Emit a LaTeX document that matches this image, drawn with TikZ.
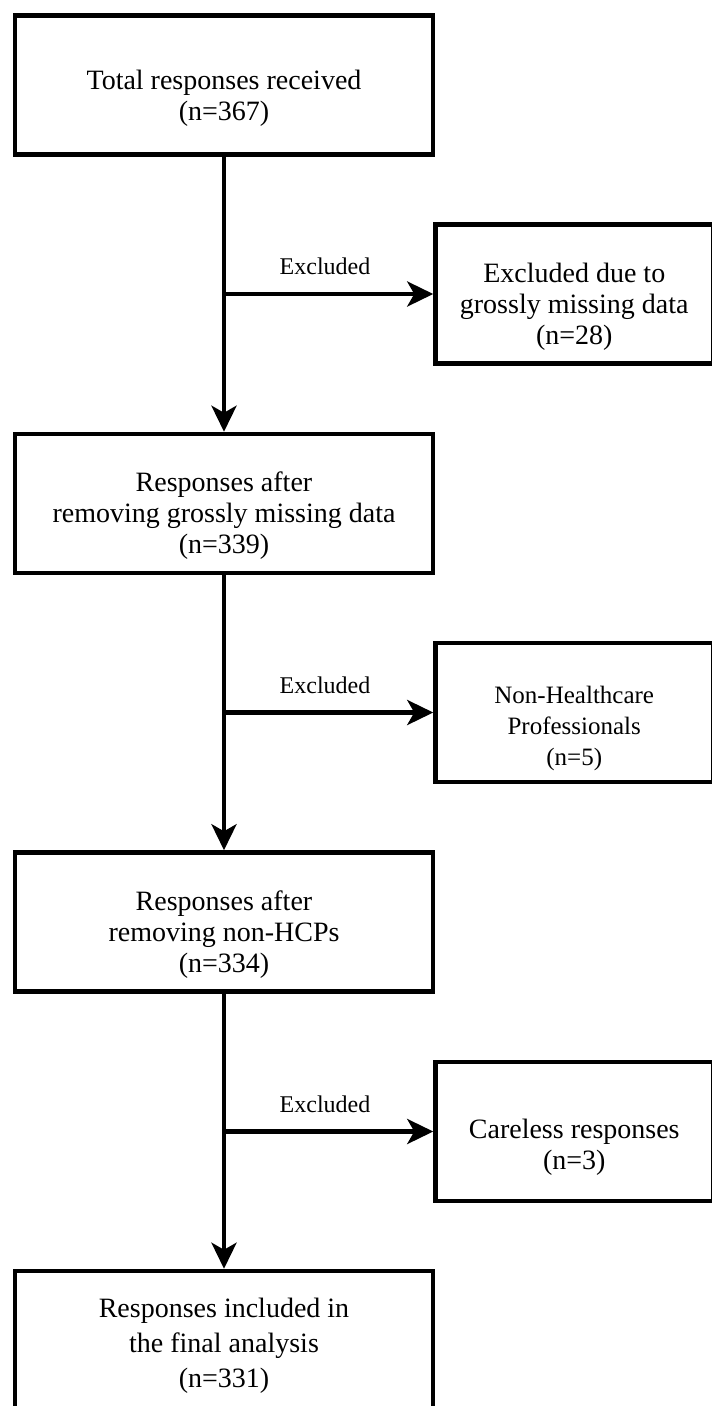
\documentclass[tikz,border=0pt]{standalone}
\usepackage{fontspec}
\setmainfont{Liberation Serif}
\usetikzlibrary{arrows.meta,calc}
\newcommand\fs{\rule{0pt}{21pt}}
\newcommand\ls{\rule[-7pt]{0pt}{7pt}}
\begin{document}
\begin{tikzpicture}[x=1pt,y=-1pt,
  box/.style={draw, line width=4.5pt, minimum width=418pt, minimum height=139pt, inner sep=0pt},
  rbox/.style={box, minimum width=277.5pt},
  txt/.style={align=center, inner sep=0pt, font=\fontsize{28}{31}\selectfont},
  lbl/.style={inner sep=0pt, anchor=base, font=\fontsize{24}{28}\selectfont},
  conn/.style={line width=4.5pt, -{Stealth[length=26pt, width=25pt, inset=7pt]}},
  link/.style={line width=4.3pt, -{Stealth[length=26pt, width=25pt, inset=7pt]}}]
\useasboundingbox (0,0) rectangle (712,1406);
\clip (0,0) rectangle (712,1406);
\fill[white] (0,0) rectangle (712,1406);

% main boxes
\node[box] (b1) at (224,85) {};
\node[box] (b2) at (224,503.5) {};
\node[box] (b3) at (224,922) {};
\node[box] (b4) at (224,1340.5) {};

% exclusion boxes
\node[rbox] (r1) at (574.25,294) {};
\node[rbox] (r2) at (574.25,712.5) {};
\node[rbox] (r3) at (574.25,1131.5) {};

% texts
\node[txt] (t1) at ($(b1)+(0,12.8)$) {\fs Total responses received\\(n=367)\ls};
\node[txt] (t2) at ($(b2)+(0,12.2)$) {\fs Responses after\\removing grossly missing data\\(n=339)\ls};
\node[txt] (t3) at ($(b3)+(0,12.9)$) {\fs Responses after\\removing non-HCPs\\(n=334)\ls};
\node[txt, font=\fontsize{28}{35}\selectfont] (t4) at ($(b4)+(0,4.8)$) {\fs Responses included in\\the final analysis\\(n=331)\ls};
\node[txt] (tr1) at ($(r1)+(0,12.7)$) {\fs Excluded due to\\grossly missing data\\(n=28)\ls};
\node[txt, font=\fontsize{25}{31}\selectfont] (tr2) at ($(r2)+(0,14.8)$) {\fs Non-Healthcare\\Professionals\\(n=5)\ls};
\node[txt] (tr3) at ($(r3)+(0,15)$) {\fs Careless responses\\(n=3)\ls};

% vertical flow
\draw[conn] (b1) -- (b2);
\draw[conn] (b2) -- (b3);
\draw[conn] (b3) -- (b4);

% exclusion branches
\coordinate (j1) at (b1.south |- r1.west);
\coordinate (j2) at (b2.south |- r2.west);
\coordinate (j3) at (b3.south |- r3.west);
\draw[link] (j1) -- (r1.west);
\draw[link] (j2) -- (r2.west);
\draw[link] (j3) -- (r3.west);

\node[lbl] (e1) at ($(j1)+(101,-19.5)$) {Excluded};
\node[lbl] (e2) at ($(j2)+(101,-19.5)$) {Excluded};
\node[lbl] (e3) at ($(j3)+(101,-19.5)$) {Excluded};
\end{tikzpicture}
\end{document}
